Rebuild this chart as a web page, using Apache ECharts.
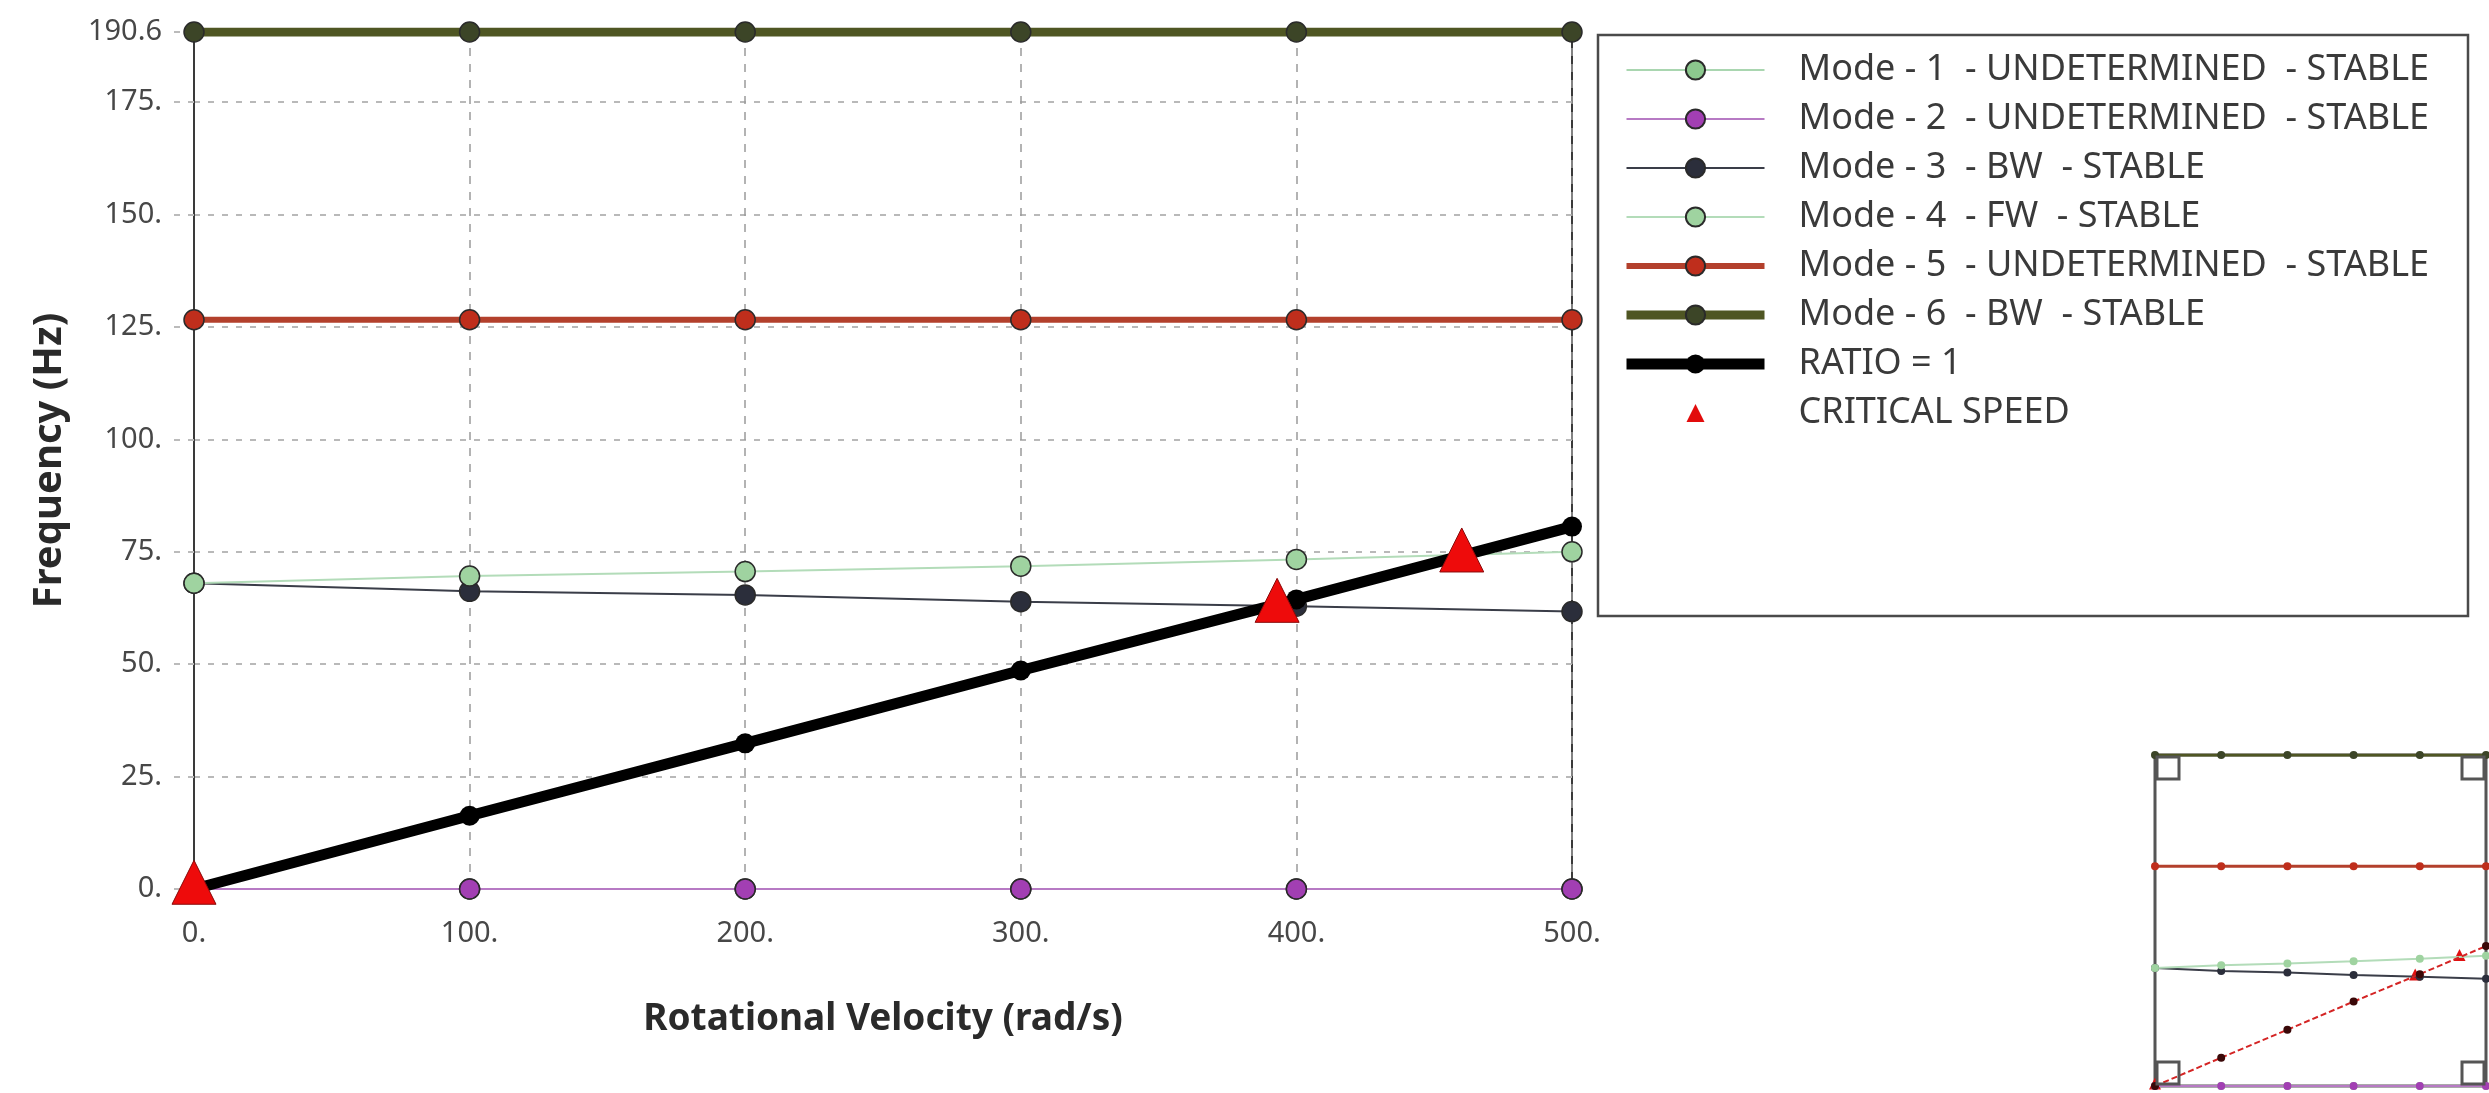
<!DOCTYPE html>
<html>
<head>
<meta charset="utf-8">
<title>Campbell Diagram</title>
<script src="https://cdn.jsdelivr.net/npm/echarts@6/dist/echarts.min.js"></script>
<style>
  html, body { margin: 0; padding: 0; background: #fff; }
  #chart { width: 2489px; height: 1093px; }
</style>
</head>
<body>
<div id="chart"></div>
<script>
// rotational velocity (rad/s)
const speeds = [0, 100, 200, 300, 400, 500]

// frequencies (Hz) per mode
const mode1 = [0, 0, 0, 0, 0, 0]
const mode2 = [0, 0, 0, 0, 0, 0]
const mode3 = [68.0, 66.2, 65.4, 63.9, 62.9, 61.7]
const mode4 = [68.0, 69.6, 70.6, 71.8, 73.3, 75.0]
const mode5 = [126.6, 126.6, 126.6, 126.6, 126.6, 126.6]
const mode6 = [190.6, 190.6, 190.6, 190.6, 190.6, 190.6]
const ratio = [0, 16.3, 32.4, 48.6, 64.4, 80.6]

const criticalSpeeds = [0, 393, 460]
const criticalFreqs = [1.5, 64.2, 75.4]

const modeNames = [
  'Mode - 1  - UNDETERMINED  - STABLE',
  'Mode - 2  - UNDETERMINED  - STABLE',
  'Mode - 3  - BW  - STABLE',
  'Mode - 4  - FW  - STABLE',
  'Mode - 5  - UNDETERMINED  - STABLE',
  'Mode - 6  - BW  - STABLE'
]
const ratioName = 'RATIO = 1'
const criticalName = 'CRITICAL SPEED'

const yMax = 190.6
const font = "'Noto Sans', 'Open Sans', sans-serif"

const pairs = (ys) => speeds.map((x, i) => [x, ys[i]])

const modeData = [mode1, mode2, mode3, mode4, mode5, mode6]
const modeStyles = [
  { line: '#a9d6b0', fill: '#8cc88e', width: 2 },
  { line: '#b77ac4', fill: '#a23fb3', width: 2 },
  { line: '#3a3d48', fill: '#2b2e3b', width: 2 },
  { line: '#b3dcb9', fill: '#9fd3a0', width: 2 },
  { line: '#b3402c', fill: '#bf2e1c', width: 6 },
  { line: '#4f5623', fill: '#3c4527', width: 9 }
]
const ratioWidth = 11

const chart = echarts.init(document.getElementById('chart'))

const mainSeries = modeData.map((ys, i) => ({
  name: modeNames[i],
  type: 'line',
  data: pairs(ys),
  symbol: 'circle',
  symbolSize: 20,
  z: 3,
  lineStyle: { color: modeStyles[i].line, width: modeStyles[i].width },
  itemStyle: { color: modeStyles[i].fill, borderColor: '#2a2a2a', borderWidth: 1.5 }
}))

mainSeries.push({
  name: ratioName,
  type: 'line',
  data: pairs(ratio),
  symbol: 'circle',
  symbolSize: 20,
  z: 4,
  lineStyle: { color: '#000', width: ratioWidth },
  itemStyle: { color: '#000' }
})

mainSeries.push({
  name: criticalName,
  type: 'scatter',
  data: criticalSpeeds.map((x, i) => [x, criticalFreqs[i]]),
  symbol: 'triangle',
  symbolSize: 44,
  z: 5,
  itemStyle: { color: '#ee0b0b', borderColor: '#8a0a0a', borderWidth: 1, opacity: 1 }
})

// small overview in the lower right corner
const insetSeries = modeData.map((ys, i) => ({
  name: 'inset ' + i,
  type: 'line',
  xAxisIndex: 1,
  yAxisIndex: 1,
  data: pairs(ys),
  symbol: 'circle',
  symbolSize: 8,
  silent: true,
  lineStyle: { color: modeStyles[i].line, width: Math.min(modeStyles[i].width, 3) },
  itemStyle: { color: modeStyles[i].fill }
}))
insetSeries.push({
  name: 'inset ratio',
  type: 'line',
  xAxisIndex: 1,
  yAxisIndex: 1,
  data: pairs(ratio),
  symbol: 'circle',
  symbolSize: 8,
  silent: true,
  lineStyle: { color: '#d42424', width: 2, type: [6, 3] },
  itemStyle: { color: '#3a0808' }
})
insetSeries.push({
  name: 'inset critical',
  type: 'scatter',
  xAxisIndex: 1,
  yAxisIndex: 1,
  data: criticalSpeeds.map((x, i) => [x, criticalFreqs[i]]),
  symbol: 'triangle',
  symbolSize: 12,
  silent: true,
  itemStyle: { color: '#e01010', opacity: 1 }
})

const corner = (x, y) => ({
  type: 'rect',
  shape: { x: x, y: y, width: 22, height: 22 },
  style: { fill: 'none', stroke: '#555', lineWidth: 3 },
  z: 100
})

const legendData = modeNames.map((name, i) => ({
  name: name,
  lineStyle: { width: modeStyles[i].width }
}))
legendData.push({ name: ratioName, lineStyle: { width: ratioWidth } })
// triangle in the middle of the 138x24 icon box, corner points keep it from stretching
legendData.push({
  name: criticalName,
  icon: 'path://M0,0L0.1,0M60,21L69,3L78,21ZM137.9,24L138,24',
  itemStyle: { color: '#e20c0c', borderWidth: 0, opacity: 1 }
})

const option = {
  animation: false,
  backgroundColor: '#fff',
  textStyle: { fontFamily: font },
  grid: [
    { left: 194, right: 917, top: 32, bottom: 204, show: true, borderColor: '#3a3a3a', borderWidth: 2 },
    { left: 2155, top: 755, width: 331, height: 331, show: true, borderColor: '#555', borderWidth: 3 }
  ],
  xAxis: [
    {
      type: 'value',
      min: 0,
      max: 500,
      interval: 100,
      name: 'Rotational Velocity (rad/s)',
      nameLocation: 'middle',
      nameGap: 112,
      nameTextStyle: { fontFamily: font, fontSize: 37, fontWeight: 'bold', color: '#2a2a2a' },
      axisLine: { show: true, lineStyle: { color: '#3a3a3a', width: 2 } },
      axisTick: { show: true, length: 14, lineStyle: { color: '#aaa', type: [8, 8] } },
      axisLabel: {
        margin: 30,
        fontFamily: font,
        fontSize: 29,
        color: '#474747',
        formatter: (v) => v + '.'
      },
      splitLine: { show: true, lineStyle: { color: '#9a9a9a', width: 1.5, type: [8, 8] } }
    },
    { type: 'value', gridIndex: 1, min: 0, max: 500, show: false, splitLine: { show: false } }
  ],
  yAxis: [
    {
      type: 'value',
      min: 0,
      max: yMax,
      interval: 25,
      name: 'Frequency (Hz)',
      nameLocation: 'middle',
      nameGap: 124,
      nameTextStyle: { fontFamily: font, fontSize: 40, fontWeight: 'bold', color: '#2a2a2a' },
      axisLine: { show: true, lineStyle: { color: '#3a3a3a', width: 2 } },
      axisTick: { show: true, length: 22, lineStyle: { color: '#bbb', width: 2, type: [6, 8] } },
      axisLabel: {
        margin: 32,
        fontFamily: font,
        fontSize: 29,
        color: '#474747',
        showMaxLabel: true,
        formatter: (v) => (Number.isInteger(v) ? v + '.' : String(v))
      },
      splitLine: { show: true, lineStyle: { color: '#b9b9b9', width: 2, type: [6, 8] } }
    },
    { type: 'value', gridIndex: 1, min: 0, max: yMax, show: false, splitLine: { show: false } }
  ],
  legend: {
    orient: 'vertical',
    left: 1616,
    top: 47,
    itemWidth: 138,
    itemHeight: 24,
    itemGap: 13,
    data: legendData,
    textStyle: { fontFamily: font, fontSize: 36, color: '#3a3a3a', padding: [0, 0, 0, 29] }
  },
  graphic: [
    {
      type: 'rect',
      shape: { x: 1598, y: 35, width: 870, height: 581 },
      style: { fill: 'none', stroke: '#4a4a4a', lineWidth: 2.5 },
      z: 0
    },
    corner(2157, 757),
    corner(2462, 757),
    corner(2157, 1062),
    corner(2462, 1062)
  ],
  series: [...mainSeries, ...insetSeries]
}

chart.setOption(option)

window.addEventListener('resize', () => chart.resize())
</script>
</body>
</html>
